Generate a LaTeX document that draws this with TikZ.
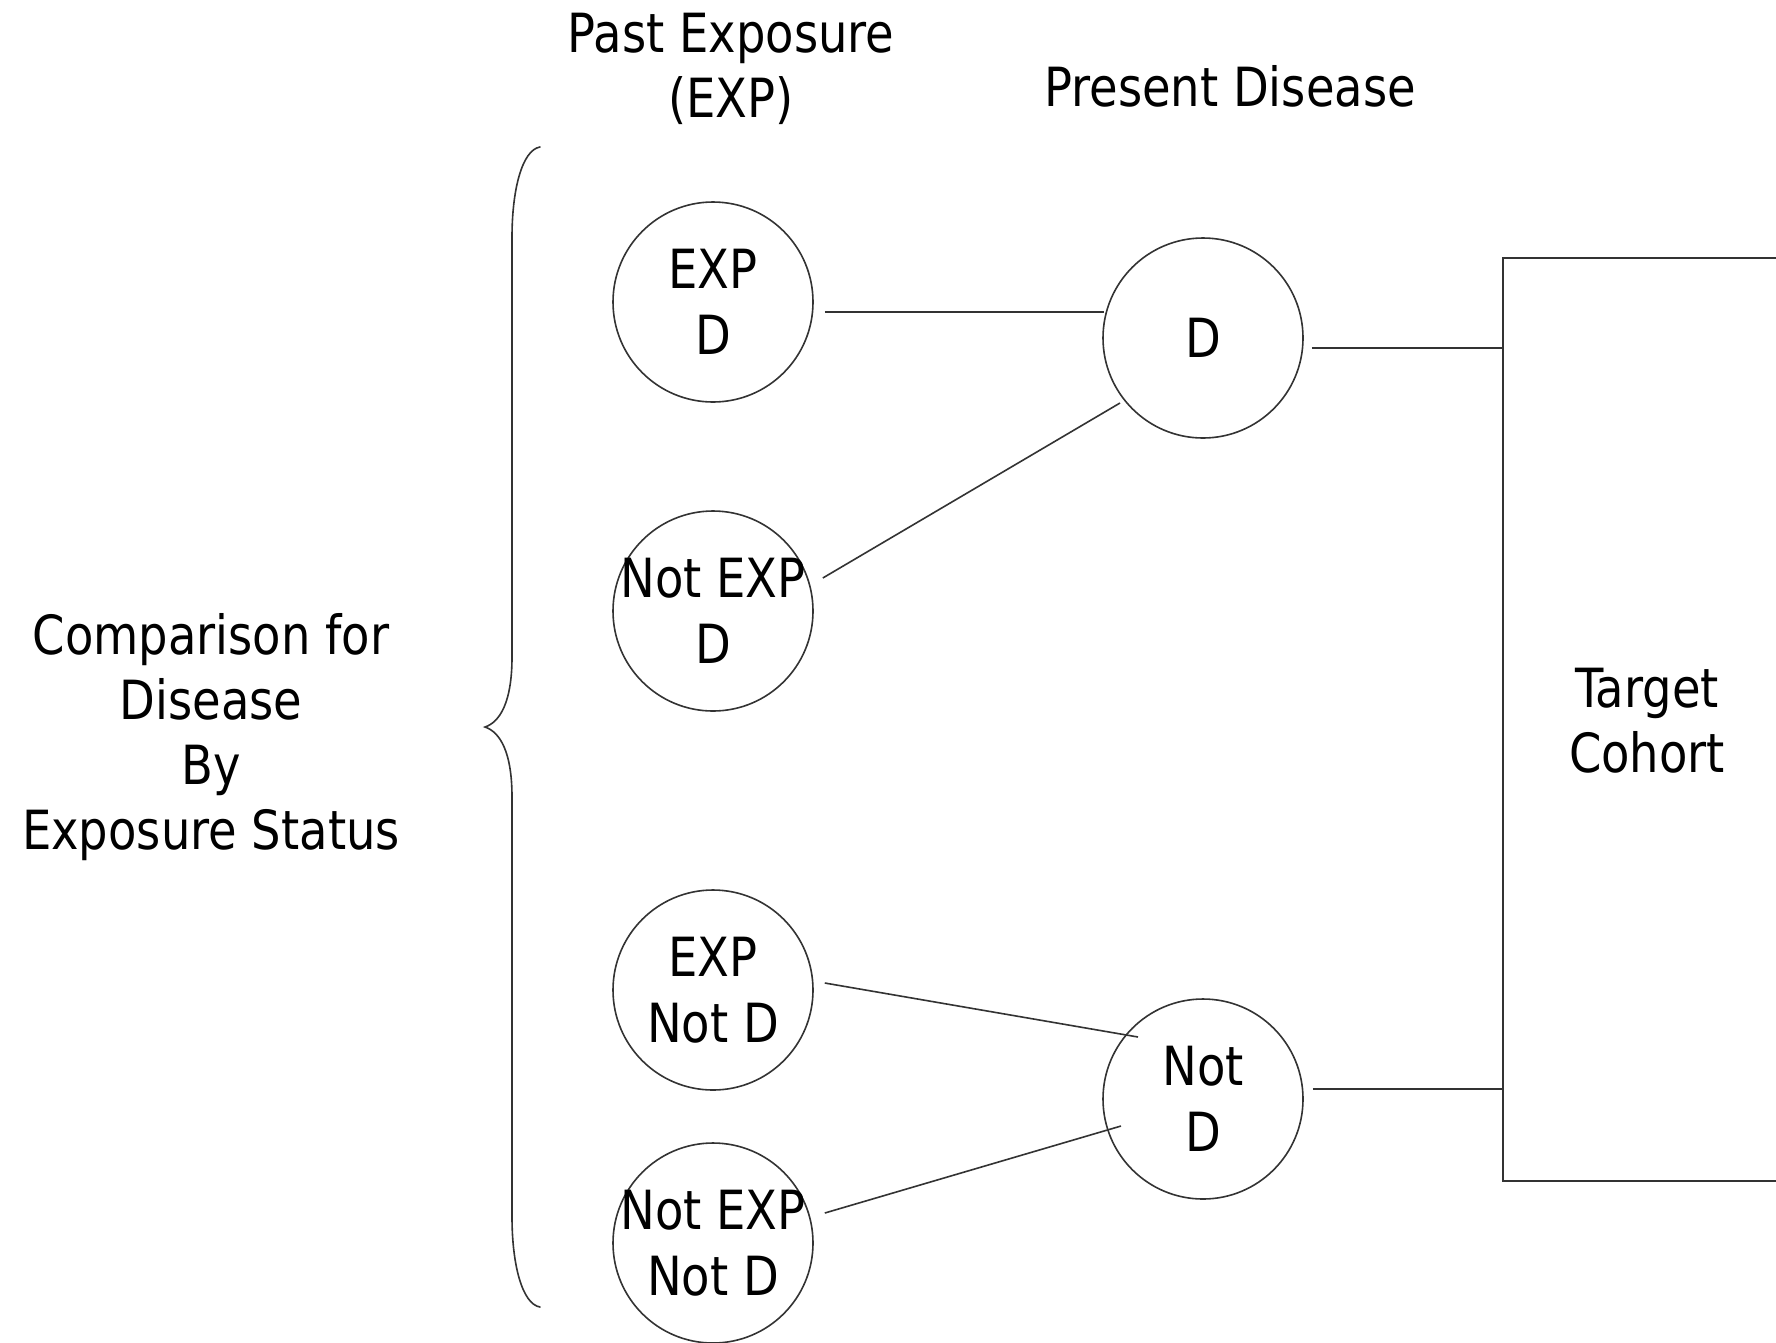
\documentclass[tikz,border=0pt]{standalone}
\usepackage{fontspec}
\newfontfamily\cond[FakeStretch=0.86]{DejaVu Sans}
\begin{document}
\begin{tikzpicture}[x=1pt,y=-1pt,
  txt/.style={font=\cond\fontsize{54}{65}\selectfont, align=center, inner sep=0pt, text=black},
  bubtxt/.style={font=\cond\fontsize{54}{66}\selectfont, align=center, inner sep=0pt, text=black},
  bubble/.style={circle, draw=black!80, line width=1.6pt, minimum size=200pt, inner sep=0pt},
  conn/.style={draw=black!80, line width=1.6pt}]
\useasboundingbox (0,0) rectangle (1776,1342);
\clip (0,0) rectangle (1776,1342);
\fill[white] (0,0) rectangle (1776,1342);

% circles
\node[bubble, label={[bubtxt]center:{EXP\\D}}] (expd) at (713,302) {};
\node[bubble, label={[bubtxt]center:{Not EXP\\D}}] (nexpd) at (713,611) {};
\node[bubble, label={[bubtxt]center:{EXP\\Not D}}] (expnd) at (713,990) {};
\node[bubble, label={[bubtxt]center:{Not EXP\\Not D}}] (nexpnd) at (713,1243) {};
\node[bubble, label={[bubtxt]center:{D}}] (d) at (1203,338) {};
\node[bubble, label={[bubtxt]center:{Not\\D}}] (notd) at (1203,1099) {};

% target cohort box
\node[draw=black!80, line width=1.6pt, minimum width=400pt, minimum height=923pt,
      anchor=north west, inner sep=0pt] (cohort) at (1502,257) {};
\node[txt] (tc) at (1647,721) {Target\\Cohort};

% titles
\node[txt] (past) at (731,69) {Past Exposure\\(EXP)};
\node[txt, anchor=base] (pres) at (1230,106) {Present Disease};
\node[txt] (comp) at (211,737) {Comparison for\\Disease\\By\\Exposure Status};

% brace
\draw[conn, line cap=round] (540,147) .. controls (522,150) and (512,190) .. (512,237)
  -- (512,657) .. controls (512,702) and (500,722) .. (485,727)
  .. controls (500,732) and (512,752) .. (512,797)
  -- (512,1217) .. controls (512,1264) and (522,1304) .. (540,1307);

% connectors
\draw[conn] ([shift={(11,10)}]expd.east) -- ([shift={(-99,-26)}]d.center);
\draw[conn] ([shift={(9,-33)}]nexpd.east) -- ([shift={(-83,65)}]d.center);
\draw[conn] ([shift={(11,-7)}]expnd.east) -- ([shift={(-65,-62)}]notd.center);
\draw[conn] ([shift={(11,-30)}]nexpnd.east) -- ([shift={(-82,27)}]notd.center);
\draw[conn] ([shift={(8,10)}]d.east) coordinate (dr) -- (dr -| cohort.west);
\draw[conn] ([shift={(9,-10)}]notd.east) coordinate (ndr) -- (ndr -| cohort.west);
\end{tikzpicture}
\end{document}
